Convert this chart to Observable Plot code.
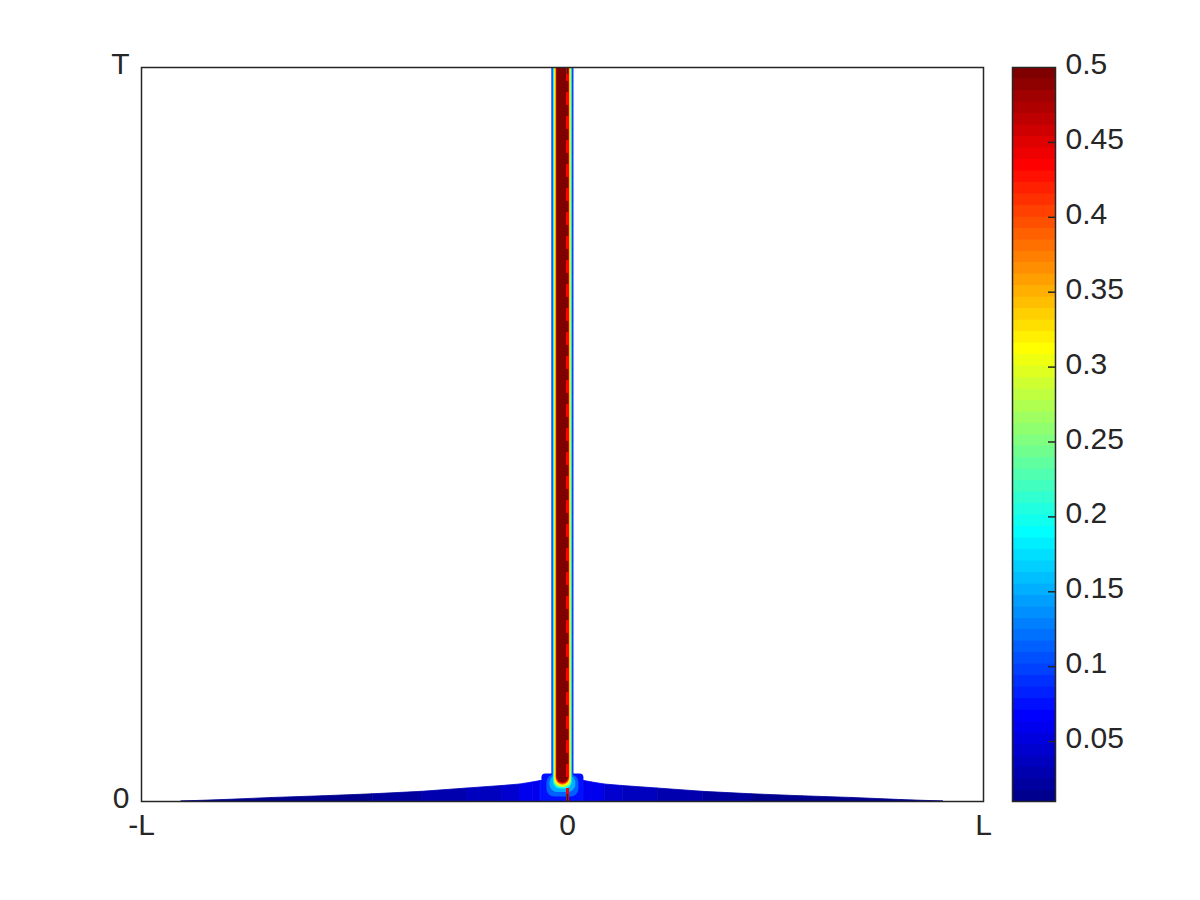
<!DOCTYPE html>
<html>
<head>
<meta charset="utf-8">
<script src="https://cdn.jsdelivr.net/npm/d3@7"></script>
<script src="https://cdn.jsdelivr.net/npm/@observablehq/plot@0.6"></script>
<style>
html, body { margin: 0; padding: 0; background: #fff; overflow: hidden; }
#wrap { position: relative; width: 1200px; height: 900px; background: #fff; }
#main { position: absolute; left: 0; top: 0; }
#cb { position: absolute; left: 1012px; top: 0; }
</style>
</head>
<body>
<div id="wrap"><div id="main"></div><div id="cb"></div></div>
<script>
// ---------------- data ----------------
// axis ticks (x in units of L, t in units of T)
const xTickValues = [-1, 0.0119, 1];
const xTickLabels = ["-L", "0", "L"];
const yTickValues = [0, 1];
const yTickLabels = ["0", "T"];
const interfaceX = 0.0119;            // red dashed line position

// colour-bar range and ticks
const cbMin = 0.01, cbMax = 0.5;
const cbTicks  = [0.05, 0.1, 0.15, 0.2, 0.25, 0.3, 0.35, 0.4, 0.45, 0.5];
const cbLabels = ["0.05", "0.1", "0.15", "0.2", "0.25", "0.3", "0.35", "0.4", "0.45", "0.5"];

// thin spreading layer at the bottom: edge positions, top height at each edge, value of each band
const skirtX   = [-0.905, -0.808, -0.689, -0.570, -0.451, -0.333, -0.226, -0.143, -0.100, -0.071, -0.052,
                   0.052, 0.071, 0.100, 0.143, 0.226, 0.333, 0.451, 0.570, 0.689, 0.808, 0.905];
const skirtTop = [0, 0.0019, 0.0048, 0.0071, 0.0098, 0.0132, 0.0177, 0.0211, 0.0232, 0.0259, 0.0279,
                  0.0279, 0.0259, 0.0232, 0.0211, 0.0177, 0.0132, 0.0098, 0.0071, 0.0048, 0.0019, 0];
const skirtV   = [0.012, 0.012, 0.013, 0.016, 0.020, 0.027, 0.038, 0.048, 0.056, 0.063,
                  0.075,
                  0.063, 0.056, 0.048, 0.038, 0.027, 0.020, 0.016, 0.013, 0.012, 0.012];

// central column and its bulb at the base: nested level regions (outer first)
const ringKind   = ["bump",  "band", "bulb", "column", "bulb", "column", "column", "column", "column", "column", "column"];
const ringV      = [0.075,   0.068,  0.11,   0.125,    0.15,   0.20,     0.28,     0.31,     0.38,     0.44,     0.495];
const ringHalfW  = [0.0499,  0.0261, 0.038,  0.0242,   0.0309, 0.0221,   0.0202,   0.0183,   0.0166,   0.0154,   0.0143];
const ringBottom = [0,       0.0368, 0.0061, 0.0150,   0.0123, 0.0170,   0.0191,   0.0208,   0.0223,   0.0237,   0.0256];
const ringTop    = [0.0375,  1,      0.0361, 1,        0.0354, 1,        1,        1,        1,        1,        1];
const ringCenter = 0.001;

// ---------------- colormap (MATLAB jet, 64 entries) ----------------
function jet(m) {
  const n = Math.ceil(m / 4);
  const u = [];
  for (let i = 1; i <= n; i++) u.push(i / n);
  for (let i = 1; i < n; i++) u.push(1);
  for (let i = n; i >= 1; i--) u.push(i / n);
  const g0 = Math.ceil(n / 2) - (m % 4 === 1 ? 1 : 0);
  const J = Array.from({length: m}, () => [0, 0, 0]);
  u.forEach((val, k) => {
    const g = g0 + k + 1, r = g + n, b = g - n;
    if (r >= 1 && r <= m) J[r - 1][0] = val;
    if (g >= 1 && g <= m) J[g - 1][1] = val;
    if (b >= 1 && b <= m) J[b - 1][2] = val;
  });
  return J.map(([r, g, b]) => d3.rgb(Math.round(r * 255), Math.round(g * 255), Math.round(b * 255)).formatHex());
}
const nLevels = 64;
const jet64 = jet(nLevels);
const thresholds = d3.range(1, nLevels).map(i => cbMin + (cbMax - cbMin) * i / nLevels);
const colorOpts = {type: "threshold", domain: thresholds, range: jet64};

// ---------------- tables for the marks ----------------
const skirtRows = skirtV.flatMap((v, i) => [
  {band: i, x: skirtX[i], top: skirtTop[i], v},
  {band: i, x: skirtX[i + 1], top: skirtTop[i + 1], v}
]);
const rings = ringV.map((v, i) => ({
  v, kind: ringKind[i],
  x1: ringCenter - ringHalfW[i], x2: ringCenter + ringHalfW[i],
  y1: ringBottom[i], y2: ringTop[i] >= 1 ? 1.03 : ringTop[i]
}));
const roundBy = {bump: 4, band: 0, bulb: 8, column: 7};
const cbRows = d3.range(nLevels).map(i => {
  const lo = cbMin + (cbMax - cbMin) * i / nLevels, hi = cbMin + (cbMax - cbMin) * (i + 1) / nLevels;
  return {lo, hi, mid: (lo + hi) / 2};
});

const FONT = "'Liberation Sans', Arial, Helvetica, sans-serif";
const INK = "#262626";
const FS = 30;

const main = Plot.plot({
  width: 1200, height: 900,
  marginLeft: 141, marginRight: 217, marginTop: 67, marginBottom: 99,
  x: {domain: [-1, 1], axis: null},
  y: {domain: [0, 1], axis: null},
  color: colorOpts,
  style: {fontFamily: FONT, fontSize: FS + "px", color: INK, background: "white", overflow: "visible"},
  marks: [
    Plot.areaY(skirtRows, {x: "x", y1: 0, y2: "top", z: "band", fill: "v", stroke: "v", strokeWidth: 0.8}),
    ...rings.map(r => Plot.rect([r], {
      x1: "x1", x2: "x2", y1: "y1", y2: "y2", fill: "v",
      rx: roundBy[r.kind], ry: roundBy[r.kind], clip: true
    })),
    Plot.ruleX([interfaceX], {y1: 0, y2: 1, stroke: "#ff0000", strokeWidth: 3, strokeDasharray: "13,11"}),
    // inward ticks (bottom and top) at the "0" tick
    Plot.ruleX([interfaceX], {y1: 0, y2: 0, insetBottom: 7, stroke: INK, strokeWidth: 1.5}),
    Plot.ruleX([interfaceX], {y1: 1, y2: 1, insetBottom: -7, stroke: INK, strokeWidth: 1.5}),
    Plot.frame({stroke: INK, strokeWidth: 1.5}),
    Plot.text(xTickValues, {x: d => d, frameAnchor: "bottom", text: (d, i) => xTickLabels[i],
      lineAnchor: "top", dy: 12, fontSize: FS, fill: INK}),
    Plot.text(yTickValues, {y: d => d, frameAnchor: "left", text: (d, i) => yTickLabels[i],
      textAnchor: "end", lineAnchor: "middle", dx: -12, dy: -3, fontSize: FS, fill: INK})
  ]
});
document.getElementById("main").appendChild(main);

const cb = Plot.plot({
  width: 188, height: 900,
  marginLeft: 0, marginRight: 145, marginTop: 67, marginBottom: 99,
  x: {axis: null},
  y: {domain: [cbMin, cbMax], axis: null},
  color: colorOpts,
  style: {fontFamily: FONT, fontSize: FS + "px", color: INK, background: "transparent", overflow: "visible"},
  marks: [
    Plot.rect(cbRows, {y1: "lo", y2: "hi", fill: "mid", stroke: "mid", strokeWidth: 0.6, shapeRendering: "crispEdges"}),
    Plot.ruleY(cbTicks.slice(0, -1), {y: d => d, insetLeft: 36, stroke: INK, strokeWidth: 1.5}),
    Plot.frame({stroke: INK, strokeWidth: 1.5}),
    Plot.text(cbTicks, {y: d => d, frameAnchor: "right", text: (d, i) => cbLabels[i],
      textAnchor: "start", lineAnchor: "middle", dx: 10, dy: -3, fontSize: FS, fill: INK})
  ]
});
document.getElementById("cb").appendChild(cb);
</script>
</body>
</html>
